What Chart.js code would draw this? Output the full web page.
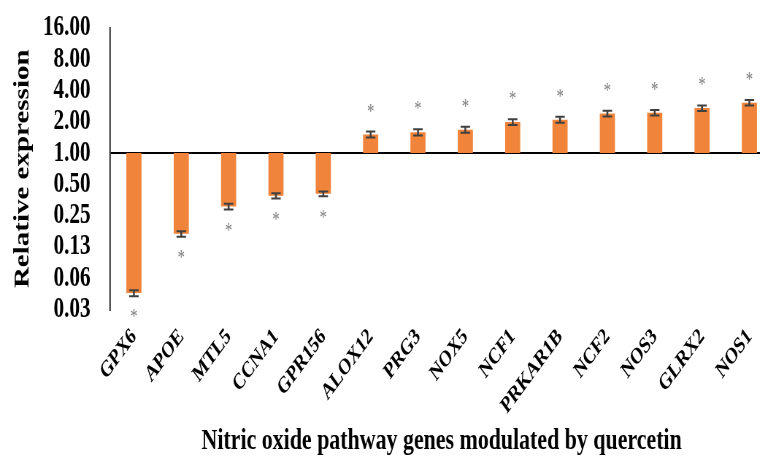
<!DOCTYPE html>
<html>
<head>
<meta charset="utf-8">
<script src="https://cdn.jsdelivr.net/npm/chart.js@4/dist/chart.umd.min.js"></script>
<style>
  html, body { margin: 0; padding: 0; background: #fff; overflow: hidden; }
  #wrap { width: 760px; height: 456px; overflow: hidden; }
  /* the figure is laid out wide and then narrowed horizontally */
  #c { display: block; transform: scaleX(0.73); transform-origin: 0 0; }
</style>
</head>
<body>
<div id="wrap"><canvas id="c" width="1062" height="456"></canvas></div>
<script>
// Genes and their fold change (relative expression vs. control)
const genes = ['GPX6', 'APOE', 'MTL5', 'CCNA1', 'GPR156', 'ALOX12', 'PRG3',
               'NOX5', 'NCF1', 'PRKAR1B', 'NCF2', 'NOS3', 'GLRX2', 'NOS1'];
const expression = [0.045, 0.167, 0.306, 0.388, 0.406, 1.51, 1.59,
                    1.68, 1.99, 2.10, 2.40, 2.45, 2.71, 3.06];
const errors = [0.003, 0.010, 0.020, 0.022, 0.022, 0.10, 0.11,
                0.11, 0.13, 0.14, 0.15, 0.15, 0.17, 0.19];
const significance = ['*', '*', '*', '*', '*', '*', '*',
                      '*', '*', '*', '*', '*', '*', '*'];

// Log2 axis ticks
const tickValues = [0.03125, 0.0625, 0.125, 0.25, 0.5, 1, 2, 4, 8, 16];
const tickLabels = ['0.03', '0.06', '0.13', '0.25', '0.50', '1.00', '2.00', '4.00', '8.00', '16.00'];

const baseline = 1;
const serif = "'Liberation Serif', 'Times New Roman', serif";

// Error bars and significance marks, placed through the value scale
const errorBarPlugin = {
  id: 'errorBars',
  afterDatasetsDraw(chart) {
    const ctx = chart.ctx;
    const yScale = chart.scales.y;
    const meta = chart.getDatasetMeta(0);
    ctx.save();
    meta.data.forEach((bar, i) => {
      const v = expression[i], e = errors[i];
      const x = bar.x;
      const yHi = yScale.getPixelForValue(v + e);
      const yLo = yScale.getPixelForValue(v - e);
      const cap = 6.5;
      ctx.strokeStyle = '#404040';
      ctx.lineWidth = 2.6;
      ctx.beginPath();
      ctx.moveTo(x, yHi); ctx.lineTo(x, yLo);
      ctx.stroke();
      ctx.lineWidth = 2;
      ctx.beginPath();
      ctx.moveTo(x - cap, yHi); ctx.lineTo(x + cap, yHi);
      ctx.moveTo(x - cap, yLo); ctx.lineTo(x + cap, yLo);
      ctx.stroke();

      const mark = significance[i];
      if (mark) {
        const end = yScale.getPixelForValue(v);
        const cy = v >= baseline ? end - 27 : end + 20;
        ctx.font = '20px ' + serif;
        ctx.fillStyle = '#7f7f7f';
        ctx.textAlign = 'center';
        ctx.textBaseline = 'alphabetic';
        const m = ctx.measureText(mark);
        const mid = (m.actualBoundingBoxAscent - m.actualBoundingBoxDescent) / 2;
        ctx.fillText(mark, x, cy + mid);
      }
    });
    ctx.restore();
  }
};

new Chart(document.getElementById('c'), {
  type: 'bar',
  data: {
    labels: genes,
    datasets: [{
      data: expression.map(v => [baseline, v]),
      backgroundColor: '#F0843A',
      borderWidth: 0,
      categoryPercentage: 1,
      barPercentage: 0.32
    }]
  },
  options: {
    responsive: false,
    animation: false,
    devicePixelRatio: 1,
    layout: { padding: { top: 28, right: 3, bottom: 0, left: 0 } },
    plugins: { legend: { display: false }, tooltip: { enabled: false } },
    scales: {
      x: {
        grid: { display: false },
        border: { display: false },
        ticks: {
          color: '#000',
          font: { family: serif, size: 23, weight: 'bold' },
          minRotation: 45,
          maxRotation: 45,
          autoSkip: false,
          padding: 6
        },
        title: {
          display: true,
          text: 'Nitric oxide pathway genes modulated by quercetin',
          color: '#000',
          font: { family: serif, size: 30, weight: 'bold', lineHeight: 1 },
          padding: { top: 0, bottom: 0 }
        },
        afterFit(scale) { scale.height = 146.5; }
      },
      y: {
        type: 'logarithmic',
        min: tickValues[0],
        max: tickValues[tickValues.length - 1],
        afterBuildTicks(scale) {
          scale.ticks = tickValues.map(v => ({ value: v }));
        },
        grid: {
          drawTicks: false,
          lineWidth: 2,
          color: (c) => (c.tick && c.tick.value === baseline) ? '#000' : 'rgba(0,0,0,0)'
        },
        border: { display: true, color: '#000', width: 1.6 },
        ticks: {
          autoSkip: false,
          color: '#000',
          padding: 27,
          font: { family: serif, size: 29, weight: 'bold', lineHeight: 1 },
          callback: (value, index) => tickLabels[index]
        },
        title: {
          display: true,
          text: 'Relative expression',
          color: '#000',
          font: { family: serif, size: 29, weight: 'bold', lineHeight: 1.2 },
          padding: { top: 14, bottom: 0 }
        },
        afterFit(scale) {
          scale.width = 151;
          // the horizontal label gap should not push the plot down
          scale.paddingTop = 0;
          scale.paddingBottom = 0;
        }
      }
    }
  },
  plugins: [errorBarPlugin]
});
</script>
</body>
</html>
